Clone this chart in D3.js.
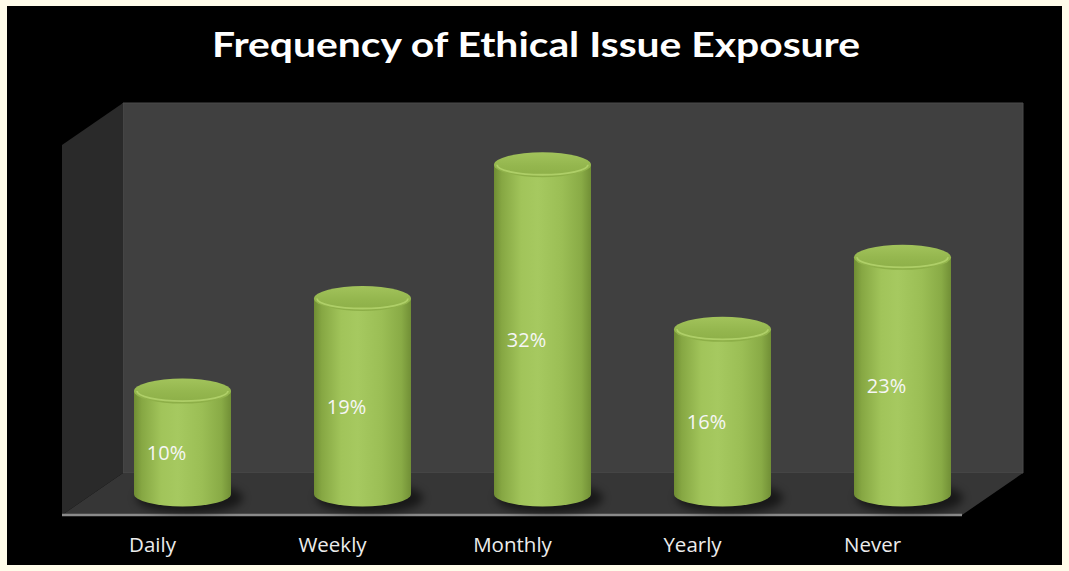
<!DOCTYPE html>
<html>
<head>
<meta charset="utf-8">
<script src="https://cdn.jsdelivr.net/npm/d3@7"></script>
<style>
  html, body { margin: 0; padding: 0; background: #FFFCEA; }
  svg { display: block; }
</style>
</head>
<body>
<svg id="chart" width="1069" height="571"></svg>
<script>
// Survey results: how often respondents meet an ethical issue
const categories = ["Daily", "Weekly", "Monthly", "Yearly", "Never"];
const shares = [0.10, 0.19, 0.32, 0.16, 0.23];
const valueLabels = ["10%", "19%", "32%", "16%", "23%"];
const titleText = "Frequency of Ethical Issue Exposure";

const W = 1069, H = 571;
const svg = d3.select("#chart");
const defs = svg.append("defs");

// Frame and black canvas
svg.append("rect").attr("width", W).attr("height", H).attr("fill", "#FFFCEA");
svg.append("rect").attr("x", 7).attr("y", 6).attr("width", 1055).attr("height", 559).attr("fill", "#000");

// 3D box layout: depth offset between the front and back planes
const depthX = 61, depthY = 42;
const frontLeft = 62, frontRight = 962, frontY = 515;
const backTop = 103;
const backY = frontY - depthY;

// Scales: categories sit at mid-depth, values rise from the floor's mid line
const x = d3.scalePoint().domain(categories)
  .range([frontLeft + depthX / 2, frontRight + depthX / 2]).padding(0.5);
const baseY = (frontY + backY) / 2;
const y = d3.scaleLinear().domain([0, 0.38]).range([baseY, backTop]);

// Walls and floor
svg.append("polygon")
  .attr("points", [[frontLeft + depthX, backTop], [frontRight + depthX, backTop],
                   [frontRight + depthX, backY], [frontLeft + depthX, backY]].join(" "))
  .attr("fill", "#404040").attr("stroke", "#4a4a4a").attr("stroke-width", 1);
svg.append("polygon")
  .attr("points", [[frontLeft, backTop + depthY], [frontLeft + depthX, backTop],
                   [frontLeft + depthX, backY], [frontLeft, frontY]].join(" "))
  .attr("fill", "#2a2a2a");
svg.append("polygon")
  .attr("points", [[frontLeft, frontY], [frontLeft + depthX, backY],
                   [frontRight + depthX, backY], [frontRight, frontY]].join(" "))
  .attr("fill", "#363636");
svg.append("line")
  .attr("x1", frontLeft).attr("x2", frontRight)
  .attr("y1", frontY).attr("y2", frontY)
  .attr("stroke", "#8a8a8a").attr("stroke-width", 2.5);

// Gradients for the cylinders
const bodyGrad = defs.append("linearGradient").attr("id", "cylBody")
  .attr("x1", "0").attr("x2", "1").attr("y1", "0").attr("y2", "0");
[[0, "#6f8d33"], [0.08, "#86a743"], [0.28, "#a1c45a"], [0.45, "#a6c960"],
 [0.7, "#9bbe55"], [0.9, "#89ab46"], [1, "#718f36"]]
  .forEach(([o, c]) => bodyGrad.append("stop").attr("offset", o).attr("stop-color", c));

const topGrad = defs.append("linearGradient").attr("id", "cylTop")
  .attr("x1", "0").attr("x2", "0").attr("y1", "0").attr("y2", "1");
[[0, "#a2c35b"], [0.5, "#95b74f"], [1, "#8cae47"]]
  .forEach(([o, c]) => topGrad.append("stop").attr("offset", o).attr("stop-color", c));

const blur = defs.append("filter").attr("id", "shadowBlur")
  .attr("x", "-50%").attr("y", "-100%").attr("width", "200%").attr("height", "300%");
blur.append("feGaussianBlur").attr("stdDeviation", 4);

const rx = 48.5, ry = 12.5;
const data = categories.map((c, i) => ({ cat: c, v: shares[i], label: valueLabels[i] }));

// Floor shadows
svg.append("g").selectAll("ellipse").data(data).join("ellipse")
  .attr("cx", d => x(d.cat) + 7).attr("cy", baseY + 4)
  .attr("rx", rx + 5).attr("ry", ry + 3)
  .attr("fill", "#000").attr("opacity", 0.55)
  .attr("filter", "url(#shadowBlur)");

// Cylinders
const bars = svg.append("g").selectAll("g").data(data).join("g");
bars.append("path")
  .attr("d", d => {
    const cx = x(d.cat), top = y(d.v);
    return `M${cx - rx},${top} L${cx - rx},${baseY} A${rx},${ry} 0 0 0 ${cx + rx},${baseY} L${cx + rx},${top} Z`;
  })
  .attr("fill", "url(#cylBody)");
bars.append("ellipse")
  .attr("cx", d => x(d.cat)).attr("cy", d => y(d.v))
  .attr("rx", rx).attr("ry", ry)
  .attr("fill", "url(#cylTop)");
// bevel highlight along the front rim of the lid
bars.append("path")
  .attr("d", d => {
    const cx = x(d.cat), top = y(d.v);
    return `M${cx - rx + 3},${top} A${rx - 3},${ry - 2.5} 0 0 0 ${cx + rx - 3},${top}`;
  })
  .attr("fill", "none").attr("stroke", "#b4d36d").attr("stroke-width", 1.8).attr("opacity", 0.85);

// Value labels
bars.append("text")
  .attr("x", d => x(d.cat) - 16)
  .attr("y", d => (y(d.v) + baseY) / 2 + 10)
  .attr("text-anchor", "middle").attr("dominant-baseline", "central")
  .attr("font-family", "'Open Sans', sans-serif").attr("font-size", 20)
  .attr("fill", "#f6f6f6")
  .text(d => d.label);

// Category labels along the front edge
const xAxis = d3.axisBottom(d3.scalePoint().domain(categories)
  .range([frontLeft, frontRight]).padding(0.5)).tickSize(0).tickPadding(0);
const axisG = svg.append("g").attr("transform", `translate(0,${frontY})`).call(xAxis);
axisG.select(".domain").remove();
axisG.selectAll("text")
  .attr("y", 37).attr("dy", null)
  .attr("font-family", "'Open Sans', sans-serif").attr("font-size", 20.5)
  .attr("fill", "#ececec");

// Title
svg.append("text")
  .attr("x", 536).attr("y", 57)
  .attr("text-anchor", "middle")
  .attr("font-family", "Lato, 'Open Sans', sans-serif").attr("font-weight", 700)
  .attr("font-size", 35).attr("fill", "#ffffff")
  .attr("textLength", 648).attr("lengthAdjust", "spacingAndGlyphs")
  .text(titleText);
</script>
</body>
</html>
